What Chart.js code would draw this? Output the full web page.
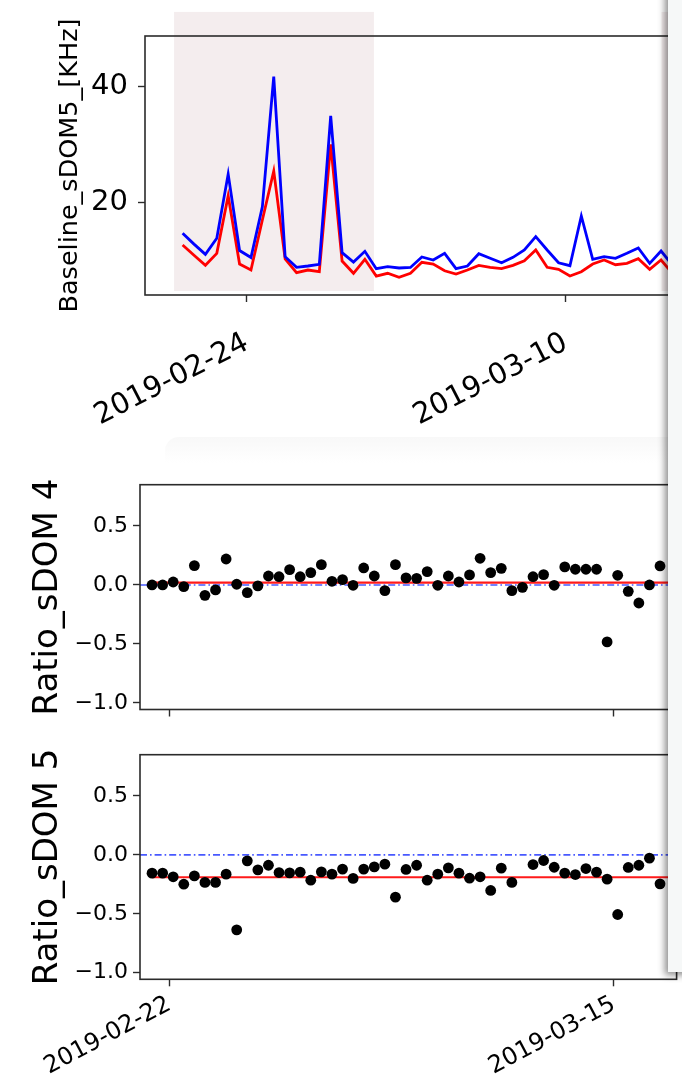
<!DOCTYPE html>
<html><head><meta charset="utf-8">
<script src="https://cdn.jsdelivr.net/npm/chart.js@4.4.1/dist/chart.umd.min.js"></script>
<style>
html,body{margin:0;padding:0;background:#fff;width:682px;height:1079px;overflow:hidden;position:relative;}
.wrap{position:absolute;left:0;}
canvas{display:block;}
#band{position:absolute;left:165px;top:437px;width:530px;height:26px;border-radius:14px 0 0 0;background:linear-gradient(#f8f8f8,#ffffff);}
#panel{position:absolute;left:668px;top:-20px;width:40px;height:992px;background:#f6f8f8;box-shadow:-3px 3px 7px rgba(0,0,0,0.45);z-index:5;}
</style></head><body>
<div id="band"></div>
<div class="wrap" style="top:0"><canvas id="cTop" width="682" height="440"></canvas></div>
<div class="wrap" style="top:440px"><canvas id="cMid" width="682" height="290"></canvas></div>
<div class="wrap" style="top:730px"><canvas id="cBot" width="682" height="349"></canvas></div>
<div id="panel"></div>
<script>
// ---------- data ----------
const times = [
 "2019-02-21 04:30","2019-02-21 16:30","2019-02-22 04:30","2019-02-22 16:30","2019-02-23 04:30","2019-02-23 16:30",
 "2019-02-24 04:30","2019-02-24 16:30","2019-02-25 04:30","2019-02-25 16:30","2019-02-26 04:30","2019-02-26 16:30",
 "2019-02-27 04:30","2019-02-27 16:30","2019-02-28 04:30","2019-02-28 16:30","2019-03-01 04:30","2019-03-01 16:30",
 "2019-03-02 04:30","2019-03-02 16:30","2019-03-03 04:30","2019-03-03 16:30","2019-03-04 04:30","2019-03-04 16:30",
 "2019-03-05 04:30","2019-03-05 16:30","2019-03-06 04:30","2019-03-06 16:30","2019-03-07 04:30","2019-03-07 16:30",
 "2019-03-08 04:30","2019-03-08 16:30","2019-03-09 04:30","2019-03-09 16:30","2019-03-10 04:30","2019-03-10 16:30",
 "2019-03-11 04:30","2019-03-11 16:30","2019-03-12 04:30","2019-03-12 16:30","2019-03-13 04:30","2019-03-13 16:30",
 "2019-03-14 04:30","2019-03-14 16:30","2019-03-15 04:30","2019-03-15 16:30","2019-03-16 04:30","2019-03-16 16:30",
 "2019-03-17 04:30"
];
const baselineBlue = [14.75,12.9,11.15,13.9,24.9,11.8,10.6,19.3,41.6,10.74,8.92,9.15,9.44,34.9,11.43,9.83,11.67,8.69,9.03,8.81,
 8.9,10.69,10.18,11.32,8.69,9.15,11.26,10.47,9.71,10.64,11.89,14.17,11.89,9.71,9.2,17.72,10.3,10.74,10.47,11.32,12.23,9.6,11.72,9.3];
const baselineRed = [12.75,11.0,9.27,11.32,21.2,9.49,8.46,17.03,25.43,10.35,8.0,8.46,8.17,30.0,10.0,7.9,10.3,7.43,7.9,7.2,
 7.9,9.78,9.49,8.34,7.78,8.46,9.26,8.92,8.69,9.26,10.06,11.89,8.92,8.58,7.43,8.17,9.49,10.18,9.37,9.6,10.4,8.58,10.18,7.9];
const ratio4 = [0.0,0.0,0.025,-0.014,0.164,-0.088,-0.042,0.22,0.006,-0.065,
 -0.008,0.076,0.07,0.13,0.07,0.105,0.172,0.031,0.045,-0.003,
 0.144,0.076,-0.048,0.172,0.06,0.056,0.113,-0.003,0.076,0.025,
 0.085,0.226,0.105,0.141,-0.048,-0.02,0.07,0.088,-0.003,0.153,
 0.133,0.133,0.133,-0.483,0.082,-0.054,-0.153,0.0,0.161];
const ratio5 = [-0.155,-0.155,-0.186,-0.249,-0.178,-0.234,-0.234,-0.164,-0.636,-0.051,
 -0.127,-0.088,-0.15,-0.153,-0.147,-0.215,-0.144,-0.164,-0.121,-0.2,
 -0.121,-0.102,-0.079,-0.359,-0.124,-0.088,-0.215,-0.164,-0.11,-0.155,
 -0.198,-0.186,-0.302,-0.113,-0.234,null,-0.082,-0.048,-0.105,-0.155,
 -0.167,-0.116,-0.147,-0.206,-0.506,-0.107,-0.088,-0.028,-0.246];
const ratio4Level = 0.02;
const ratio5Level = -0.19;
const topTickDates = ["2019-02-24 00:00","2019-03-10 00:00"];
const topTickLabels = ["2019-02-24","2019-03-10"];
const botTickDates = ["2019-02-22 00:00","2019-03-15 00:00"];
const botTickLabels = ["2019-02-22","2019-03-15"];
const topYTicks = [20,40];
const topYLabels = ["20","40"];
const ratioYTicks = [-1.0,-0.5,0.0,0.5];
const ratioYLabels = ["\u22121.0","\u22120.5","0.0","0.5"];
const shadeSpans = [["2019-02-20 19:30","2019-03-01 14:00"],["2019-03-14 05:00","2019-03-20 00:00"]];
const shadeRange = [4.86,52.7];
const topXRange = ["2019-02-19 12:53","2019-03-14 22:20"];
const ratioXRange = ["2019-02-20 14:51","2019-03-17 23:18"];
const topYRange = [4.18,48.57];
const ratioYRange = [-1.056,0.85];

// ---------- helpers ----------
const FONT = "'DejaVu Sans', sans-serif";
const ORIGIN = Date.parse("2019-02-22T00:00:00Z");
function toDays(s){ return (Date.parse(s.replace(' ','T')+':00Z') - ORIGIN)/86400000; }
const tDays = times.map(toDays);

const framePlugin = {
  id:'frame',
  afterDraw(chart){
    const {ctx, chartArea:a} = chart;
    ctx.save(); ctx.strokeStyle='#2b2b2b'; ctx.lineWidth=1.6;
    ctx.strokeRect(a.left, a.top, a.right-a.left, a.bottom-a.top);
    ctx.restore();
  }
};
const shadePlugin = {
  id:'shade',
  beforeDatasetsDraw(chart){
    const {ctx, chartArea:a, scales:{x,y}} = chart;
    ctx.save(); ctx.fillStyle='rgb(244,237,238)';
    shadeSpans.forEach(([s,e])=>{
      const x1 = Math.max(a.left, x.getPixelForValue(toDays(s)));
      const x2 = Math.min(a.right, x.getPixelForValue(toDays(e)));
      const y1 = y.getPixelForValue(shadeRange[1]);
      const y2 = y.getPixelForValue(shadeRange[0]);
      ctx.fillRect(x1, y1, x2-x1, y2-y1);
    });
    ctx.restore();
  }
};
const gridOpts = {drawOnChartArea:false, drawTicks:true, tickLength:7, tickColor:'#2b2b2b', tickWidth:1.4};

function xScale(range, tickDates, tickLabels, showLabels, fontSize, rot, pad, height){
  return {
    type:'linear', min:toDays(range[0]), max:toDays(range[1]),
    afterBuildTicks: ax=>{ ax.ticks = tickDates.map(d=>({value:toDays(d)})); },
    ticks:{ autoSkip:false, maxRotation:rot, minRotation:rot, color:'#000', padding:pad,
      font:{family:FONT, size:fontSize},
      callback:(v,i)=> showLabels ? tickLabels[i] : '' },
    grid:gridOpts, border:{display:false},
    afterFit: ax=>{ ax.height = height; }
  };
}
function yScale(range, ticks, labels, fontSize, pad, title, titleSize, titlePad, width){
  return {
    min:range[0], max:range[1],
    afterBuildTicks: ax=>{ ax.ticks = ticks.map(v=>({value:v})); },
    ticks:{ color:'#000', padding:pad, font:{family:FONT, size:fontSize},
      callback:(v,i)=> labels[i] },
    grid:gridOpts, border:{display:false},
    title:{display:true, text:title, color:'#000', font:{family:FONT, size:titleSize}, padding:{top:titlePad,bottom:0}},
    afterFit: ax=>{ ax.width = width; }
  };
}
const common = {responsive:false, animation:false, events:[],
  plugins:{legend:{display:false}, tooltip:{enabled:false}}};

// ---------- top chart ----------
new Chart(document.getElementById('cTop'), {
  type:'line',
  data:{datasets:[
    {data: baselineBlue.map((v,i)=>({x:tDays[i], y:v})), borderColor:'#0000ff', borderWidth:2.8, pointRadius:0, tension:0, order:0},
    {data: baselineRed.map((v,i)=>({x:tDays[i], y:v})), borderColor:'#ff0000', borderWidth:2.8, pointRadius:0, tension:0, order:1}
  ]},
  options:Object.assign({}, common, {
    layout:{padding:{left:0,right:4,top:36,bottom:0}},
    scales:{
      x: xScale(topXRange, topTickDates, topTickLabels, true, 29, 27, 24, 145),
      y: yScale(topYRange, topYTicks, topYLabels, 29, 10, 'Baseline_sDOM5_[KHz]', 25.5, 55, 145)
    }
  }),
  plugins:[shadePlugin, framePlugin]
});

// ---------- ratio charts ----------
function ratioChart(id, values, level, title, showX, padTop, xHeight, padBottom){
  const first = tDays[0], last = toDays(ratioXRange[1]);
  return new Chart(document.getElementById(id), {
    type:'line',
    data:{datasets:[
      {data: values.map((v,i)=>({x:tDays[i], y:v})), showLine:false, pointRadius:5.4, pointBackgroundColor:'#000', pointBorderWidth:0, order:0},
      {data:[{x:first,y:level},{x:last,y:level}], borderColor:'#ff1a1a', borderWidth:2.2, pointRadius:0, order:1},
      {data:[{x:toDays(ratioXRange[0]),y:0},{x:last,y:0}], borderColor:'rgba(40,60,255,0.85)', borderWidth:1.6, borderDash:[7,3,1.6,3], pointRadius:0, order:2}
    ]},
    options:Object.assign({}, common, {
      layout:{padding:{left:0,right:4,top:padTop,bottom:padBottom}},
      scales:{
        x: xScale(ratioXRange, botTickDates, botTickLabels, showX, 24, 28, 4, xHeight),
        y: yScale(ratioYRange, ratioYTicks, ratioYLabels, 22, 5, title, 34, 27.5, 140)
      }
    }),
    plugins:[framePlugin]
  });
}
ratioChart('cMid', ratio4, ratio4Level, 'Ratio_sDOM 4', false, 44.7, 15, 5.5);
ratioChart('cBot', ratio5, ratio5Level, 'Ratio_sDOM 5', true, 24.7, 99.7, 0);
</script>
</body></html>
